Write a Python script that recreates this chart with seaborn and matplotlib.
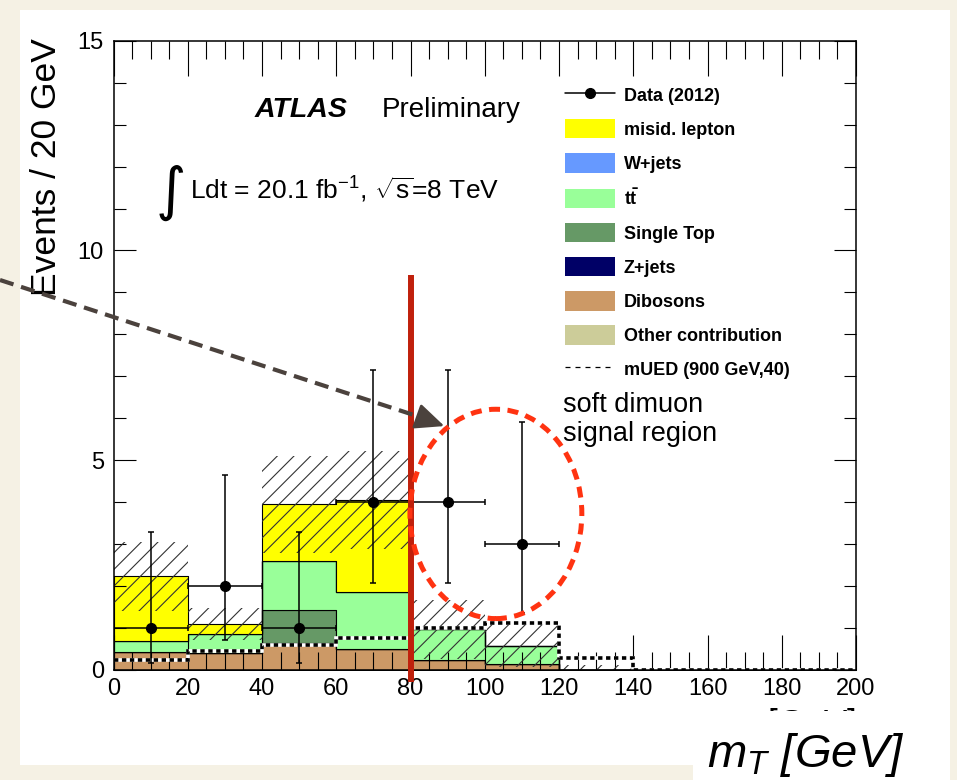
import numpy as np
import pandas as pd
import matplotlib
matplotlib.use("Agg")
import matplotlib.pyplot as plt
import seaborn as sns
from matplotlib.patches import Rectangle, Ellipse, Patch, FancyArrowPatch
from matplotlib.lines import Line2D
from matplotlib.ticker import MultipleLocator

# ---------------- data ----------------
bin_edges = [0, 20, 40, 60, 80, 100, 120, 140, 160, 180, 200]
process_names = ["misid. lepton", "W+jets", r"$\mathbf{t\bar{t}}$", "Single Top",
                 "Z+jets", "Dibosons", "Other contribution"]
process_colors = ["#ffff00", "#6699ff", "#99ff99", "#669966", "#000066", "#cc9966", "#cccc99"]
misid = [1.53, 0.24, 1.34, 2.19, 0.0, 0.0, 0.0, 0.0, 0.0, 0.0]
wjets = [0.0, 0.0, 0.0, 0.0, 0.0, 0.0, 0.0, 0.0, 0.0, 0.0]
ttbar = [0.28, 0.46, 1.18, 1.37, 0.74, 0.43, 0.0, 0.0, 0.0, 0.0]
single_top = [0.0, 0.0, 0.79, 0.0, 0.0, 0.0, 0.0, 0.0, 0.0, 0.0]
zjets = [0.0, 0.0, 0.0, 0.0, 0.0, 0.0, 0.0, 0.0, 0.0, 0.0]
dibosons = [0.42, 0.40, 0.64, 0.50, 0.23, 0.15, 0.0, 0.0, 0.0, 0.0]
other = [0.0, 0.0, 0.0, 0.0, 0.0, 0.0, 0.0, 0.0, 0.0, 0.0]
bkg_unc = [0.82, 0.38, 1.15, 1.17, 0.71, 0.52, 0.12, 0.0, 0.0, 0.0]
mued = [0.25, 0.46, 0.60, 0.76, 1.00, 1.13, 0.28, 0.01, 0.01, 0.01]
data_x = [10, 30, 50, 70, 90, 110]
data_y = [1, 2, 1, 4, 4, 3]
data_lo = [0.17, 0.71, 0.17, 2.08, 2.08, 1.37]
data_hi = [3.30, 4.64, 3.30, 7.16, 7.16, 5.92]
x_ticks = [0, 20, 40, 60, 80, 100, 120, 140, 160, 180, 200]
y_ticks = [0, 5, 10, 15]

# ---------------- style ----------------
sns.set_style("ticks")
plt.rcParams["font.family"] = ["Liberation Sans", "DejaVu Sans"]
plt.rcParams["mathtext.fontset"] = "custom"
plt.rcParams["mathtext.rm"] = "Liberation Sans"
plt.rcParams["mathtext.it"] = "Liberation Sans:italic"
plt.rcParams["mathtext.bf"] = "Liberation Sans:bold"
plt.rcParams["hatch.linewidth"] = 0.8
plt.rcParams["text.color"] = "black"

W, H = 957, 780
fig = plt.figure(figsize=(W / 100, H / 100), dpi=100)
fig.patch.set_facecolor("#f5f1e4")

def fx(px):
    return px / W

def fy(py):
    return 1 - py / H

# white panels
fig.patches.append(Rectangle((fx(20), fy(765)), (950 - 20) / W, (765 - 10) / H,
                             transform=fig.transFigure, facecolor="white",
                             edgecolor="none", zorder=-2))
fig.patches.append(Rectangle((fx(693), fy(780)), (950 - 693) / W, 70 / H,
                             transform=fig.transFigure, facecolor="white",
                             edgecolor="none", zorder=-2))

ax = fig.add_axes([fx(113.5), fy(670), (856 - 113.5) / W, (670 - 40.7) / H])
ax.set_facecolor("none")

# ---------------- stacked backgrounds via seaborn ----------------
edges = np.array(bin_edges, dtype=float)
centers = 0.5 * (edges[:-1] + edges[1:])
comp_values = [misid, wjets, ttbar, single_top, zjets, dibosons, other]
rows = []
for name, vals in zip(process_names, comp_values):
    for c, v in zip(centers, vals):
        rows.append({"mT": c, "events": v, "process": name})
df = pd.DataFrame(rows)
palette = dict(zip(process_names, process_colors))
sns.histplot(data=df, x="mT", weights="events", hue="process",
             hue_order=process_names, palette=palette, bins=list(bin_edges),
             multiple="stack", element="step", fill=True, alpha=1,
             edgecolor="black", linewidth=0.8, legend=False, ax=ax)

# uncertainty band
total = np.sum(np.array(comp_values), axis=0)
unc = np.array(bkg_unc)
low = np.clip(total - unc, 0, None)
high = total + unc
ax.bar(centers, high - low, bottom=low, width=20, fill=False, hatch="//",
       edgecolor="#333333", linewidth=0, zorder=3)

# mUED signal line (black/white dashed)
ax.stairs(mued, edges, baseline=None, color="white", linewidth=2.6, zorder=4)
ax.stairs(mued, edges, baseline=None, color="black", linewidth=2.6,
          linestyle=(0, (1.2, 1.0)), zorder=4.1)

# data
yerr = np.array([np.array(data_y) - np.array(data_lo), np.array(data_hi) - np.array(data_y)])
ax.errorbar(data_x, data_y, xerr=10, yerr=yerr, fmt="o", color="black",
            markersize=7, elinewidth=1.1, capsize=2.5, capthick=1.1, zorder=6)

# axes formatting
ax.set_xlim(0, 200)
ax.set_ylim(0, 15)
ax.set_xticks(x_ticks)
ax.set_yticks(y_ticks)
ax.xaxis.set_minor_locator(MultipleLocator(5))
ax.yaxis.set_minor_locator(MultipleLocator(1))
ax.set_xlabel("")
ax.set_ylabel("")
ax.set_axisbelow(False)
ax.tick_params(axis="both", which="both", direction="in", top=True, right=True,
               width=0.8, color="black", labelsize=17, labelcolor="black")
ax.tick_params(axis="x", which="major", length=25, pad=6)
ax.tick_params(axis="x", which="minor", length=13)
ax.tick_params(axis="y", which="major", length=16, pad=7)
ax.tick_params(axis="y", which="minor", length=8.5)
for s in ax.spines.values():
    s.set_visible(True)
    s.set_linewidth(1.1)
    s.set_color("black")
    s.set_zorder(7)

# red cut line
ax.plot([80, 80], [-0.29, 9.41], color="#c0200c", linewidth=4.3, clip_on=False,
        solid_capstyle="butt", zorder=8)

# red dashed ellipse
ax.add_patch(Ellipse((103, 3.72), 46.3, 4.99, fill=False, edgecolor="#ff3311",
                     linewidth=3.6, linestyle=(0, (2.2, 1.5)), zorder=9))

# legend
handles = [
    Line2D([], [], color="black", marker="o", markersize=7, linewidth=1.1),
    Patch(facecolor="#ffff00", edgecolor="none"),
    Patch(facecolor="#6699ff", edgecolor="none"),
    Patch(facecolor="#99ff99", edgecolor="none"),
    Patch(facecolor="#669966", edgecolor="none"),
    Patch(facecolor="#000066", edgecolor="none"),
    Patch(facecolor="#cc9966", edgecolor="none"),
    Patch(facecolor="#cccc99", edgecolor="none"),
    Line2D([], [], color="black", linewidth=0.9, linestyle=(0, (4, 4))),
]
labels = ["Data (2012)"] + process_names + ["mUED (900 GeV,40)"]
leg = ax.legend(handles, labels, loc="upper left",
                bbox_to_anchor=(fx(565), fy(85)), bbox_transform=fig.transFigure,
                frameon=False, borderpad=0, borderaxespad=0,
                prop={"weight": "bold", "size": 13},
                handlelength=2.75, handleheight=1.27, labelspacing=0.8,
                handletextpad=0.5)
leg.set_zorder(10)

# texts
fig.text(fx(255), fy(117), "ATLAS", fontsize=20.5, weight="bold", style="italic")
fig.text(fx(382), fy(117), "Preliminary", fontsize=20)
fig.text(fx(156), fy(209), "\u222b", fontsize=42, family=["DejaVu Sans"])
fig.text(fx(190), fy(199), r"Ldt = 20.1 fb$^{\mathregular{-1}}$, $\sqrt{\mathregular{s}}$=8 TeV",
         fontsize=19)
fig.text(fx(563), fy(412), "soft dimuon", fontsize=19.5)
fig.text(fx(563), fy(441), "signal region", fontsize=19.5)

# y label
fig.text(fx(47), fy(38), "Events / 20 GeV", rotation=90, fontsize=25.5,
         ha="center", va="top")

# original x label (partly hidden by the overlay box)
fig.text(fx(856), fy(706), r"$m_{T}$ [GeV]", fontsize=25, ha="right", va="top",
         zorder=1)
fig.patches.append(Rectangle((fx(693), fy(780)), (950 - 693) / W, (780 - 711) / H,
                             transform=fig.transFigure, facecolor="white",
                             edgecolor="none", zorder=2))
fig.text(fx(707), fy(767), r"$m_T$ [GeV]", fontsize=34, style="italic",
         ha="left", va="baseline", zorder=3)

# dashed annotation arrow
fig.add_artist(Line2D([fx(0), fx(420)], [fy(280), fy(417)], transform=fig.transFigure,
                      color="#4b423d", linewidth=3, linestyle=(0, (3.4, 1.9)), zorder=7))
fig.add_artist(FancyArrowPatch((fx(416), fy(416)), (fx(447), fy(427)),
                               transform=fig.transFigure,
                               arrowstyle="-|>,head_length=18,head_width=8",
                               mutation_scale=1, color="#4b423d", linewidth=2,
                               zorder=7))

fig.savefig("out.png", dpi=100, facecolor=fig.get_facecolor())
